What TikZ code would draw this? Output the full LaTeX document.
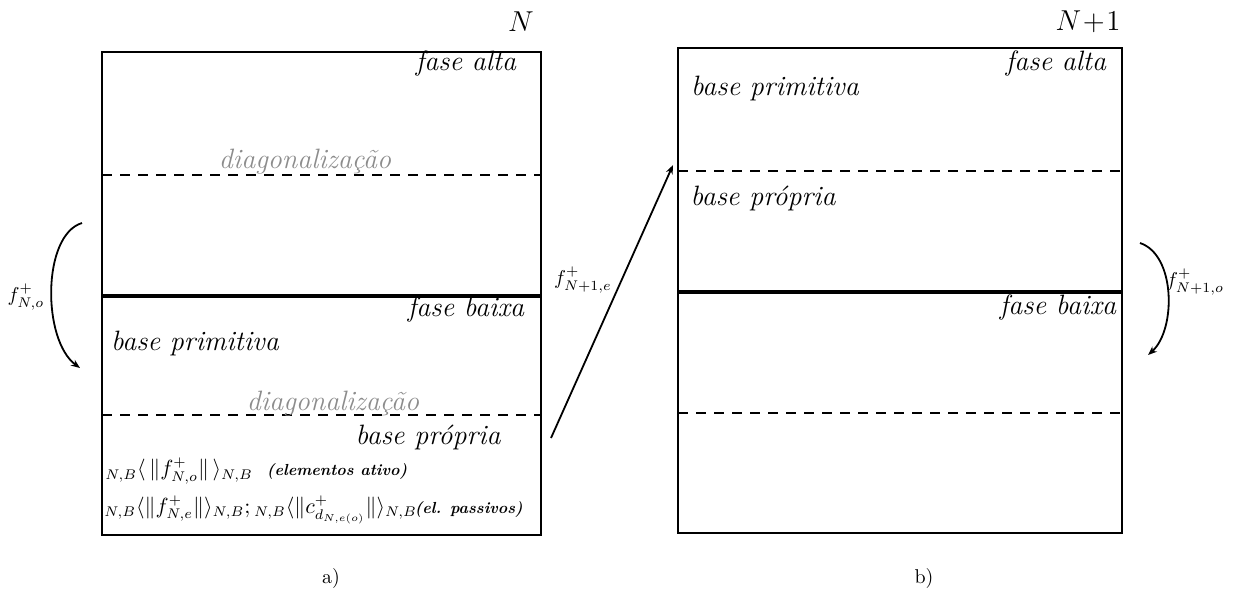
\documentclass[tikz,border=0pt]{standalone}
\usepackage{amsmath}
\usepackage{amssymb}
\usetikzlibrary{arrows.meta}

\begin{document}
\begin{tikzpicture}[
x=0.5pt, y=-0.5pt,
phase/.style={draw=black, line width=1pt, minimum width=#1, inner sep=0pt},
label/.style={font=\fontsize{14}{16}\selectfont\itshape, inner sep=0pt},
diag/.style={font=\fontsize{14}{16}\selectfont\itshape, text=black!45, inner sep=0pt},
head/.style={font=\fontsize{13.5}{16}\selectfont, inner sep=1pt},
formula/.style={anchor=west, inner sep=0pt, font=\fontsize{10.5}{13}\selectfont},
arrow/.style={-{Stealth[length=4.5pt,width=3.5pt]}, line width=0.9pt},
thickline/.style={line width=2.2pt},
dashline/.style={dashed, dash pattern=on 5pt off 4pt, line width=0.8pt}
]
\useasboundingbox (0,0) rectangle (1234,602);

% box N
\node[phase=219.5pt, minimum height=241.5pt] (boxa) at (321.5,293.5) {};
\draw[dashline] (102,175) -- (541,175);
\draw[thickline] (102,296) -- (541,296);
\draw[dashline] (102,415) -- (541,415);
\node[head] (na) at (521,22) {$N$};
\node[label] (altaa) at (466,63) {fase alta};
\node[diag] (diaga) at (305,162) {diagonalização};
\node[label] (baixaa) at (466,309) {fase baixa};
\node[label] (prima) at (195,343) {base primitiva};
\node[diag] (diagb) at (333,404) {diagonalização};
\node[label] (propa) at (428,437) {base própria};
\node[formula] (ativo) at (105,471) {${}_{N,B}\langle\,\|f^{+}_{N,o}\|\,\rangle_{N,B}$\ \ {\bfseries\itshape\footnotesize(elementos ativo)}};
\node[formula] (passivo) at (104,510) {${}_{N,B}\langle\|f^{+}_{N,e}\|\rangle_{N,B};{}_{N,B}\langle\|c^{+}_{d_{N,e(o)}}\|\rangle_{N,B}$\hspace{-1pt}{\bfseries\itshape\footnotesize(el. passivos)}};

% box N+1
\node[phase=222pt, minimum height=242.5pt] (boxb) at (900,290.5) {};
\draw[dashline] (678,171) -- (1122,171);
\draw[thickline] (678,292) -- (1122,292);
\draw[dashline] (678,413) -- (1122,413);
\node[head] (nb) at (1088,22) {$N\!+\!1$};
\node[label] (altab) at (1056,63) {fase alta};
\node[label] (primb) at (775,88) {base primitiva};
\node[label] (propb) at (763,198) {base própria};
\node[label] (baixab) at (1058,307) {fase baixa};

% arrows
\coordinate (ao-start) at (82,223);
\coordinate (ao-end) at (80,368);
\draw[arrow] (ao-start) .. controls (42,235) and (42,340) .. (ao-end);
\node (fao) at (26,297) {$f^{+}_{N,o}$};

\coordinate (ae-start) at (551,438);
\coordinate (ae-end) at (673,165);
\draw[arrow] (ae-start) -- (ae-end);
\node (fae) at (583,280) {$f^{+}_{N+1,e}$};

\coordinate (bo-start) at (1140,243);
\coordinate (bo-end) at (1148,355);
\draw[arrow] (bo-start) .. controls (1176,255) and (1176,330) .. (bo-end);
\node (fbo) at (1195,282) {$f^{+}_{N+1,o}$};

\node (capa) at (331,578) {a)};
\node (capb) at (924,578) {b)};
\end{tikzpicture}
\end{document}
